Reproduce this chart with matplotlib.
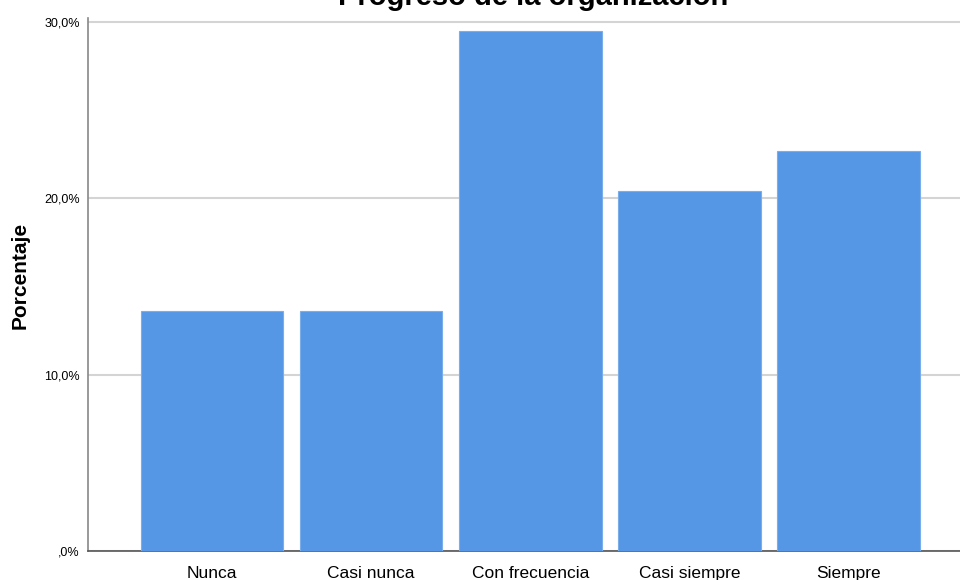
import numpy as np
import matplotlib
matplotlib.use("Agg")
import matplotlib.pyplot as plt

plt.rcParams['font.family'] = ['Liberation Sans', 'DejaVu Sans']

# datos (porcentaje de respuestas)
categorias = ["Nunca", "Casi nunca", "Con frecuencia", "Casi siempre", "Siempre"]
porcentajes = [13.6, 13.6, 29.5, 20.4, 22.7]
ticks_y = [0, 10, 20, 30]
etiquetas_y = [",0%", "10,0%", "20,0%", "30,0%"]

fig = plt.figure(figsize=(9.6, 5.8), dpi=100)
ax = fig.add_axes([88/960, 1-551/580, 1-88/960, (551-18)/580])

x = np.arange(len(categorias))
ax.bar(x, porcentajes, width=0.895, color="#5596e5", edgecolor="#7aaeea",
       linewidth=0.8, zorder=3)

ax.set_xlim(-0.78, 4.70)
ax.set_ylim(0, 30.23)
ax.set_yticks(ticks_y)
ax.set_yticklabels(etiquetas_y, fontsize=9)
ax.set_xticks(x)
ax.set_xticklabels(categorias, fontsize=12.5)
ax.tick_params(axis='y', length=0, pad=6)
ax.tick_params(axis='x', length=0, pad=11)
ax.grid(axis='y', color="#d4d4d4", linewidth=1.5, zorder=0)

for s in ["top", "right"]:
    ax.spines[s].set_visible(False)
ax.spines["left"].set_color("#888888")
ax.spines["left"].set_linewidth(1.2)
ax.spines["bottom"].set_color("#555555")
ax.spines["bottom"].set_linewidth(1.2)

fig.text(20/960, 1-275/580, "Porcentaje", rotation=90, ha="center",
         va="center", fontsize=15, fontweight="bold")
fig.text(533/960, 1-5/580, "Progreso de la organización", ha="center",
         va="baseline", fontsize=21, fontweight="bold")

fig.savefig("out.png", dpi=100)
